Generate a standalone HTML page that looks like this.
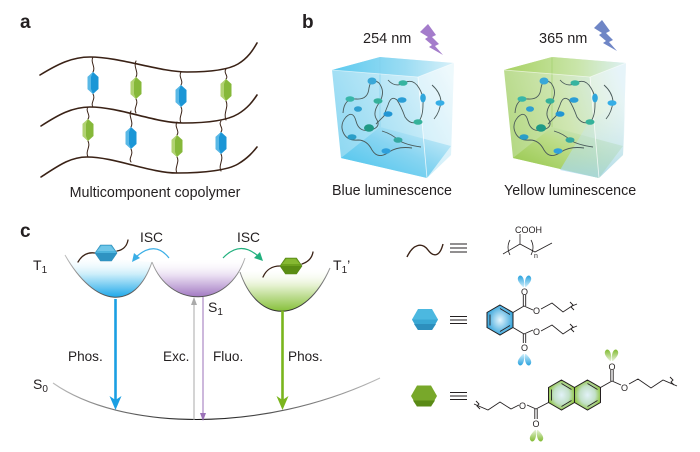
<!DOCTYPE html>
<html><head><meta charset="utf-8"><style>
html,body{margin:0;padding:0;background:#fff;}
svg{display:block;}
text{font-family:"Liberation Sans",Arial,sans-serif;fill:#231f20;}
</style></head><body>
<svg width="700" height="452" viewBox="0 0 700 452" xmlns="http://www.w3.org/2000/svg">
<defs>
  <linearGradient id="c1sil" x1="0" y1="0.7" x2="1" y2="0.2">
    <stop offset="0" stop-color="#8ed8f2"/><stop offset="0.5" stop-color="#b8e6f6"/><stop offset="1" stop-color="#e6f6fb"/>
  </linearGradient>
  <linearGradient id="c1top" x1="0" y1="0" x2="1" y2="0">
    <stop offset="0" stop-color="#5ccaef"/><stop offset="0.6" stop-color="#9bdcf3"/><stop offset="1" stop-color="#d9f1f9"/>
  </linearGradient>
  <linearGradient id="c1floor" x1="0" y1="1" x2="1" y2="0">
    <stop offset="0" stop-color="#40c1ec"/><stop offset="0.55" stop-color="#86d4f1"/><stop offset="1" stop-color="#d6f0f9"/>
  </linearGradient>
  <linearGradient id="c2sil" x1="0" y1="0.6" x2="1" y2="0.3">
    <stop offset="0" stop-color="#b4d883"/><stop offset="0.5" stop-color="#cfe6b2"/><stop offset="1" stop-color="#dcf0f7"/>
  </linearGradient>
  <linearGradient id="c2top" x1="0" y1="0" x2="1" y2="0">
    <stop offset="0" stop-color="#a8d263"/><stop offset="0.6" stop-color="#c9e5a9"/><stop offset="1" stop-color="#dcf0f3"/>
  </linearGradient>
  <linearGradient id="c2floor" x1="0" y1="1" x2="1" y2="0">
    <stop offset="0" stop-color="#8cc23c"/><stop offset="0.55" stop-color="#bcdc86"/><stop offset="1" stop-color="#d3ebea"/>
  </linearGradient>
  <linearGradient id="c2br" x1="0" y1="0" x2="0" y2="1">
    <stop offset="0" stop-color="#d8eef7" stop-opacity="0"/><stop offset="1" stop-color="#a6d7ef" stop-opacity="0.8"/>
  </linearGradient>
  <linearGradient id="fBlue" x1="0" y1="0" x2="0" y2="1">
    <stop offset="0" stop-color="#fff" stop-opacity="0"/><stop offset="0.45" stop-color="#cdeefa"/><stop offset="1" stop-color="#1ea8ea"/>
  </linearGradient>
  <linearGradient id="fPurp" x1="0" y1="0" x2="0" y2="1">
    <stop offset="0" stop-color="#fff" stop-opacity="0"/><stop offset="0.45" stop-color="#eadff2"/><stop offset="1" stop-color="#a27ac2"/>
  </linearGradient>
  <linearGradient id="fGreen" x1="0" y1="0" x2="0" y2="1">
    <stop offset="0" stop-color="#fff" stop-opacity="0"/><stop offset="0.4" stop-color="#e6f2d2"/><stop offset="1" stop-color="#86c03a"/>
  </linearGradient>
  <linearGradient id="pStroke" gradientUnits="userSpaceOnUse" x1="0" y1="252" x2="0" y2="312">
    <stop offset="0" stop-color="#c8c8c8"/><stop offset="1" stop-color="#2a2a2a"/>
  </linearGradient>
  <linearGradient id="s0Stroke" gradientUnits="userSpaceOnUse" x1="53" y1="0" x2="380" y2="0">
    <stop offset="0" stop-color="#bdbdbd"/><stop offset="0.45" stop-color="#111"/><stop offset="1" stop-color="#bdbdbd"/>
  </linearGradient>
  <radialGradient id="ringBlue" cx="0.5" cy="0.5" r="0.5">
    <stop offset="0" stop-color="#e6f6fd"/><stop offset="1" stop-color="#3aa6dc"/>
  </radialGradient>
  <radialGradient id="ringGreen" cx="0.5" cy="0.5" r="0.5">
    <stop offset="0" stop-color="#e2f2f8"/><stop offset="0.6" stop-color="#c2e0c8"/><stop offset="1" stop-color="#94c64c"/>
  </radialGradient>
  <linearGradient id="lobeB" x1="0" y1="0" x2="0" y2="1">
    <stop offset="0" stop-color="#cdeefb"/><stop offset="1" stop-color="#2aa2de"/>
  </linearGradient>
  <linearGradient id="lobeBup" x1="0" y1="1" x2="0" y2="0">
    <stop offset="0" stop-color="#cdeefb"/><stop offset="1" stop-color="#2aa2de"/>
  </linearGradient>
  <linearGradient id="lobeG" x1="0" y1="0" x2="0" y2="1">
    <stop offset="0" stop-color="#e6f2d6"/><stop offset="1" stop-color="#82bb32"/>
  </linearGradient>
  <linearGradient id="lobeGup" x1="0" y1="1" x2="0" y2="0">
    <stop offset="0" stop-color="#e6f2d6"/><stop offset="1" stop-color="#82bb32"/>
  </linearGradient>
</defs>

<!-- Panel labels -->
<text x="20" y="28" font-size="19" font-weight="bold">a</text>
<text x="302" y="28" font-size="19" font-weight="bold">b</text>
<text x="20" y="237" font-size="19" font-weight="bold">c</text>

<!-- ===== Panel a ===== -->
<g fill="none" stroke="#3a2216" stroke-width="1.6" stroke-linecap="round">
  <path d="M40,75 C58,64 72,57 90,57 C120,57 160,72 187,72 C210,72 228,70 238,64 C248,58 253,50 257,43"/>
  <path d="M41,126 C58,115 72,107 90,107 C120,107 155,123 183,123 C210,123 228,120 238,114 C248,108 253,101 257,95"/>
  <path d="M41,177 C58,166 70,157 87,157 C115,157 150,173 177,173 C205,173 228,170 238,164 C248,158 253,152 257,147"/>
</g>
<g fill="none" stroke="#3a2216" stroke-width="1" stroke-linecap="round">
  <path d="M93,57 C90,62 96,67 93,72 M93,94 C96,99 90,103 93,107"/>
  <path d="M136,61 C133,67 139,72 136,77 M136,99 C139,104 133,108 136,113"/>
  <path d="M181,72 C178,77 184,81 181,85 M181,107 C184,112 178,117 181,123"/>
  <path d="M226,69 C223,73 229,76 226,79 M226,101 C229,107 223,113 226,120"/>
  <path d="M88,107 C85,111 91,115 88,119 M88,141 C91,147 85,151 88,157"/>
  <path d="M131,111 C128,116 134,122 131,127 M131,149 C134,155 128,158 131,162"/>
  <path d="M177,122 C174,127 180,131 177,135 M177,157 C180,162 174,168 177,173"/>
  <path d="M221,121 C218,125 224,128 221,132 M221,154 C224,160 218,165 221,171"/>
</g>
<!-- elongated hexagons -->
<g>
  <g transform="translate(93,83)"><polygon points="0,-11 5.5,-6 5.5,6 0,11 -5.5,6 -5.5,-6" fill="#1b96d6"/><polygon points="0,-11 -5.5,-6 -5.5,6 0,11 -2,6 -2,-6" fill="#59b8e6"/></g>
  <g transform="translate(136,88)"><polygon points="0,-11 5.5,-6 5.5,6 0,11 -5.5,6 -5.5,-6" fill="#86b83a"/><polygon points="0,-11 -5.5,-6 -5.5,6 0,11 -2,6 -2,-6" fill="#b1d272"/></g>
  <g transform="translate(181,96)"><polygon points="0,-11 5.5,-6 5.5,6 0,11 -5.5,6 -5.5,-6" fill="#1b96d6"/><polygon points="0,-11 -5.5,-6 -5.5,6 0,11 -2,6 -2,-6" fill="#59b8e6"/></g>
  <g transform="translate(226,90)"><polygon points="0,-11 5.5,-6 5.5,6 0,11 -5.5,6 -5.5,-6" fill="#86b83a"/><polygon points="0,-11 -5.5,-6 -5.5,6 0,11 -2,6 -2,-6" fill="#b1d272"/></g>
  <g transform="translate(88,130)"><polygon points="0,-11 5.5,-6 5.5,6 0,11 -5.5,6 -5.5,-6" fill="#86b83a"/><polygon points="0,-11 -5.5,-6 -5.5,6 0,11 -2,6 -2,-6" fill="#b1d272"/></g>
  <g transform="translate(131,138)"><polygon points="0,-11 5.5,-6 5.5,6 0,11 -5.5,6 -5.5,-6" fill="#1b96d6"/><polygon points="0,-11 -5.5,-6 -5.5,6 0,11 -2,6 -2,-6" fill="#59b8e6"/></g>
  <g transform="translate(177,146)"><polygon points="0,-11 5.5,-6 5.5,6 0,11 -5.5,6 -5.5,-6" fill="#86b83a"/><polygon points="0,-11 -5.5,-6 -5.5,6 0,11 -2,6 -2,-6" fill="#b1d272"/></g>
  <g transform="translate(221,143)"><polygon points="0,-11 5.5,-6 5.5,6 0,11 -5.5,6 -5.5,-6" fill="#1b96d6"/><polygon points="0,-11 -5.5,-6 -5.5,6 0,11 -2,6 -2,-6" fill="#59b8e6"/></g>
</g>
<text x="155" y="197" font-size="14.3" text-anchor="middle">Multicomponent copolymer</text>

<!-- ===== Panel b ===== -->
<text x="363" y="43" font-size="14.5">254 nm</text>
<text x="539" y="43" font-size="14.5">365 nm</text>
<polygon points="420,32 428,24 436,35 432,37 439,44 435,46 443,55 429,47 432,45 425,39 428,37" fill="#a47ccb"/>
<polygon points="594,28 602,20 610,31 606,33 613,40 609,42 617,51 603,43 606,41 599,35 602,33" fill="#6f86c6"/>

<!-- cube 1 -->
<g>
  <polygon points="332,70 380,57 454,63 451,155 427,178 341,158" fill="url(#c1sil)"/>
  <polygon points="418,77 454,63 451,155 427,178" fill="#ffffff" opacity="0.3"/>
  <polygon points="341,158 380,127 451,146 427,178" fill="url(#c1floor)" opacity="0.95"/>
  <polygon points="332,70 380,57 454,63 418,77" fill="url(#c1top)"/>
  <g fill="none" stroke-width="0.8">
    <path d="M380,58 L380,127" stroke="#7fd0ee" opacity="0.8"/>
    <path d="M418,77 L427,178" stroke="#ffffff" opacity="0.8"/>
    <path d="M332,70 L418,77 L454,63" stroke="#ffffff" opacity="0.6"/>
  </g>
</g>
<!-- cube 2 -->
<g>
  <polygon points="504,70 552,57 626,63 623,155 599,178 513,158" fill="url(#c2sil)"/>
  <polygon points="590,77 626,63 623,155 599,178" fill="#ffffff" opacity="0.3"/>
  <polygon points="513,158 552,127 623,146 599,178" fill="url(#c2floor)" opacity="0.95"/>
  <polygon points="590,120 626,100 623,155 599,178 560,170" fill="url(#c2br)"/>
  <polygon points="504,70 552,57 626,63 590,77" fill="url(#c2top)"/>
  <g fill="none" stroke-width="0.8">
    <path d="M552,58 L552,127" stroke="#9fcf6a" opacity="0.8"/>
    <path d="M590,77 L599,178" stroke="#ffffff" opacity="0.8"/>
    <path d="M504,70 L590,77 L626,63" stroke="#ffffff" opacity="0.6"/>
  </g>
</g>

<!-- chains in cubes -->
<g id="chains1">
  <g fill="none" stroke="#4a5a5a" stroke-width="0.9">
    <path d="M343,113 Q344,98 356,99 Q368,100 369,88 Q371,77 379,83 Q386,92 379,103 Q372,113 377,120 Q381,127 371,130 Q359,133 356,121 Q353,110 346,117 Q339,125 344,134 Q348,141 358,140 Q367,140 372,150 Q378,160 389,152 Q398,146 412,148"/>
    <path d="M388,80 Q395,88 404,83 Q413,78 419,88 Q424,96 423,104 Q423,116 419,121 Q411,126 405,117 Q401,106 397,100 Q391,95 388,105 Q385,112 384,116 Q380,120 376,124"/>
    <path d="M432,85 Q440,92 441,101 Q440,112 434,119"/>
    <path d="M382,131 Q392,134 398,140 Q406,145 421,147"/>
  </g>
  <g>
    <ellipse cx="372" cy="81" rx="4.5" ry="3.5" fill="#3aa8d8"/>
    <ellipse cx="350" cy="99" rx="4.5" ry="2.8" fill="#38b6a8"/>
    <ellipse cx="378" cy="101" rx="4.5" ry="2.8" fill="#34b09a"/>
    <ellipse cx="358" cy="109" rx="4" ry="2.8" fill="#2f9fcf"/>
    <ellipse cx="403" cy="83" rx="4.5" ry="2.8" fill="#36b4a0"/>
    <ellipse cx="423" cy="98" rx="2.8" ry="4.5" fill="#2fa6dc"/>
    <ellipse cx="402" cy="100" rx="4.5" ry="2.8" fill="#2a9ed6"/>
    <ellipse cx="388" cy="114" rx="4.5" ry="2.8" fill="#2296d4"/>
    <ellipse cx="369" cy="128" rx="5" ry="3.8" fill="#1f9a86"/>
    <ellipse cx="418" cy="122" rx="4.5" ry="2.8" fill="#35b29a"/>
    <ellipse cx="440" cy="103" rx="4.5" ry="2.8" fill="#36aee6"/>
    <ellipse cx="352" cy="137" rx="4.5" ry="2.8" fill="#2a9ec8"/>
    <ellipse cx="398" cy="140" rx="4.5" ry="2.8" fill="#33a8a0"/>
    <ellipse cx="386" cy="151" rx="4.5" ry="2.8" fill="#2fa0dc"/>
  </g>
</g>
<use href="#chains1" transform="translate(172,0)"/>

<text x="332" y="195" font-size="14.3">Blue luminescence</text>
<text x="504" y="195" font-size="14.3">Yellow luminescence</text>

<!-- ===== Panel c ===== -->
<path d="M65,255 C95,308 135,312 152,262 Z" fill="url(#fBlue)"/>
<path d="M152,262 C170,309 228,309 245,258 Z" fill="url(#fPurp)"/>
<path d="M240,272 C258,325 305,325 330,268 Z" fill="url(#fGreen)"/>
<g fill="none" stroke="url(#pStroke)" stroke-width="1">
  <path d="M65,255 C95,308 135,312 152,262"/>
  <path d="M152,262 C170,309 228,309 245,258"/>
  <path d="M240,272 C258,325 305,325 330,268"/>
</g>
<path d="M53,383 C120,430 260,435 380,378" fill="none" stroke="url(#s0Stroke)" stroke-width="1.1"/>

<line x1="115.5" y1="299" x2="115.5" y2="400" stroke="#1a9fe3" stroke-width="2.6"/>
<polygon points="109.5,396 115.5,410 121.5,396 115.5,400" fill="#1a9fe3"/>
<line x1="282.5" y1="311" x2="282.5" y2="400" stroke="#7ab51d" stroke-width="2.6"/>
<polygon points="276.5,396 282.5,410 288.5,396 282.5,400" fill="#7ab51d"/>
<line x1="194" y1="420" x2="194" y2="302" stroke="#aaaaaa" stroke-width="1"/>
<polygon points="191,305 194,297 197,305" fill="#aaaaaa"/>
<line x1="203" y1="297" x2="203" y2="415" stroke="#9b72b8" stroke-width="1"/>
<polygon points="200,413 203,421 206,413" fill="#9b72b8"/>

<path d="M169,258 Q155,240 136,257" fill="none" stroke="#3aaee6" stroke-width="1.2"/>
<polygon points="132,262 134,253 140,258" fill="#3aaee6"/>
<path d="M223,258 Q240,240 258,256" fill="none" stroke="#22b07e" stroke-width="1.2"/>
<polygon points="263,261 254,258 260,252" fill="#22b07e"/>

<g fill="none" stroke="#3a2216" stroke-width="1.3" stroke-linecap="round">
  <path d="M78,262 C82,255 88,252 95,253"/>
  <path d="M117,251 C123,250 127,246 128,240"/>
  <path d="M263,277 C266,270 272,266 280,266"/>
  <path d="M302,264 C308,262 312,258 313,252"/>
</g>
<polygon points="95,253 100.5,245 111.5,245 117,253 111.5,261 100.5,261" fill="#4db4dd" stroke="#2a85b0" stroke-width="0.6"/>
<polygon points="95,253 117,253 111.5,261 100.5,261" fill="#2f93c2"/>
<polygon points="97,251 101.5,246 110.5,246 115,251" fill="#6fc6e8"/>
<polygon points="280,266 285.5,258 296.5,258 302,266 296.5,274 285.5,274" fill="#6ea21f" stroke="#4f7f12" stroke-width="0.6"/>
<polygon points="280,266 302,266 296.5,274 285.5,274" fill="#5a8c14"/>
<polygon points="282,264 286.5,259 295.5,259 300,264" fill="#86b832"/>

<text x="33" y="270" font-size="14">T<tspan font-size="10" dy="3">1</tspan></text>
<text x="208" y="312" font-size="14">S<tspan font-size="10" dy="3">1</tspan></text>
<text x="333" y="270" font-size="14">T<tspan font-size="10" dy="3">1</tspan><tspan dy="-3">’</tspan></text>
<text x="33" y="389" font-size="14">S<tspan font-size="10" dy="3">0</tspan></text>
<text x="140" y="242" font-size="13.8">ISC</text>
<text x="237" y="242" font-size="13.8">ISC</text>
<text x="68" y="361" font-size="13.6">Phos.</text>
<text x="163" y="361" font-size="13.6">Exc.</text>
<text x="213" y="361" font-size="13.6">Fluo.</text>
<text x="288" y="361" font-size="13.6">Phos.</text>

<!-- ===== Legend ===== -->
<path d="M407,257 C413,244 422,242 428,250 C434,258 440,256 443,244" fill="none" stroke="#3a2216" stroke-width="1.4"/>
<g stroke="#231f20" stroke-width="1">
  <line x1="450" y1="244" x2="467" y2="244"/><line x1="450" y1="248" x2="467" y2="248"/><line x1="450" y1="252" x2="467" y2="252"/>
  <line x1="450" y1="316.5" x2="467" y2="316.5"/><line x1="450" y1="320" x2="467" y2="320"/><line x1="450" y1="323.5" x2="467" y2="323.5"/>
  <line x1="450" y1="392.5" x2="467" y2="392.5"/><line x1="450" y1="396" x2="467" y2="396"/><line x1="450" y1="399.5" x2="467" y2="399.5"/>
</g>

<text x="515" y="233" font-size="9">COOH</text>
<g fill="none" stroke="#231f20" stroke-width="0.8">
  <polyline points="503,254 520,244 535,252 552,243"/>
  <line x1="520" y1="234" x2="520" y2="244"/>
  <path d="M510,240 Q506,247 510,255"/>
  <path d="M531,240 Q535,247 531,255"/>
</g>
<text x="534" y="258" font-size="7">n</text>

<polygon points="412,319.5 418,309 432,309 438,319.5 432,330 418,330" fill="#4cb8e0"/>
<polygon points="412,319.5 438,319.5 432,330 418,330" fill="#3aa8d4"/>
<polygon points="414,324 436,324 432,330 418,330" fill="#2d8fbd"/>

<polygon points="411,396 417,385.5 431,385.5 437,396 431,406.5 417,406.5" fill="#78a82a"/>
<polygon points="413,400.5 435,400.5 431,406.5 417,406.5" fill="#5a8a16"/>

<polygon points="500,305 513,312.5 513,327.5 500,335 487,327.5 487,312.5" fill="url(#ringBlue)" stroke="#231f20" stroke-width="1"/>
<g fill="none" stroke="#231f20" stroke-width="0.9">
  <line x1="490" y1="314.5" x2="490" y2="325.5"/>
  <line x1="500" y1="308.5" x2="510" y2="314.5"/>
  <line x1="510" y1="325.5" x2="500" y2="331.5"/>
  <line x1="513" y1="312.5" x2="524" y2="306"/>
  <line x1="523.3" y1="306" x2="523.3" y2="295"/><line x1="525.7" y1="306" x2="525.7" y2="295"/>
  <line x1="524" y1="306" x2="533" y2="310"/>
  <polyline points="541,309 552,303 563,312 572,306 577,304"/>
  <path d="M570,302 l3,3 l-2,2 l3,3"/>
  <line x1="513" y1="327.5" x2="524" y2="334"/>
  <line x1="523.3" y1="334" x2="523.3" y2="343"/><line x1="525.7" y1="334" x2="525.7" y2="343"/>
  <line x1="524" y1="334" x2="533" y2="330"/>
  <polyline points="541,331 552,325 563,334 572,328 577,326"/>
  <path d="M570,324 l3,3 l-2,2 l3,3"/>
</g>
<text x="521" y="295" font-size="9">O</text>
<text x="533" y="314" font-size="9">O</text>
<text x="533" y="335" font-size="9">O</text>
<text x="521" y="351" font-size="9">O</text>
<path d="M523,287 C519,283 516,279 519,276 C522,274 525,279 524,287 Z" fill="url(#lobeBup)"/>
<path d="M526,287 C530,283 533,279 530,276 C527,274 524,279 525,287 Z" fill="url(#lobeBup)"/>
<path d="M523,354 C519,358 516,362 519,365 C522,367 525,362 524,354 Z" fill="url(#lobeB)"/>
<path d="M526,354 C530,358 533,362 530,365 C527,367 524,362 525,354 Z" fill="url(#lobeB)"/>

<polygon points="561.5,380 574.5,387.5 574.5,402.5 561.5,410 548.5,402.5 548.5,387.5" fill="url(#ringGreen)" stroke="#231f20" stroke-width="1"/>
<polygon points="587.5,380 600.5,387.5 600.5,402.5 587.5,410 574.5,402.5 574.5,387.5" fill="url(#ringGreen)" stroke="#231f20" stroke-width="1"/>
<g fill="none" stroke="#231f20" stroke-width="0.9">
  <line x1="551.5" y1="389.5" x2="551.5" y2="400.5"/>
  <line x1="561.5" y1="383.5" x2="571.5" y2="389.5"/>
  <line x1="571.5" y1="400.5" x2="561.5" y2="406.5"/>
  <line x1="587.5" y1="383.5" x2="597.5" y2="389.5"/>
  <line x1="597.5" y1="400.5" x2="587.5" y2="406.5"/>
  <line x1="600.5" y1="387.5" x2="612" y2="381"/>
  <line x1="610.8" y1="381" x2="610.8" y2="370"/><line x1="613.2" y1="381" x2="613.2" y2="370"/>
  <line x1="612" y1="381" x2="621" y2="385"/>
  <polyline points="629,384 638,379 651,388 663,380 677,386"/>
  <path d="M670,377 l3,3 l-2,2 l3,3"/>
  <line x1="548.5" y1="402.5" x2="536" y2="409"/>
  <line x1="534.8" y1="409" x2="534.8" y2="419"/><line x1="537.2" y1="409" x2="537.2" y2="419"/>
  <line x1="536" y1="409" x2="527" y2="405"/>
  <polyline points="519,405 511,409 500,402 488,410 474,404"/>
  <path d="M476,401 l3,3 l-2,2 l3,3"/>
</g>
<text x="608.5" y="370" font-size="9">O</text>
<text x="621" y="391" font-size="9">O</text>
<text x="519" y="409" font-size="9">O</text>
<text x="532.5" y="427" font-size="9">O</text>
<path d="M610,361 C606,357 603,353 606,350 C609,348 612,353 611,361 Z" fill="url(#lobeGup)"/>
<path d="M613,361 C617,357 620,353 617,350 C614,348 611,353 612,361 Z" fill="url(#lobeGup)"/>
<path d="M535,430 C531,434 528,438 531,441 C534,443 537,438 536,430 Z" fill="url(#lobeG)"/>
<path d="M538,430 C542,434 545,438 542,441 C539,443 536,438 537,430 Z" fill="url(#lobeG)"/>
</svg>
</body></html>
